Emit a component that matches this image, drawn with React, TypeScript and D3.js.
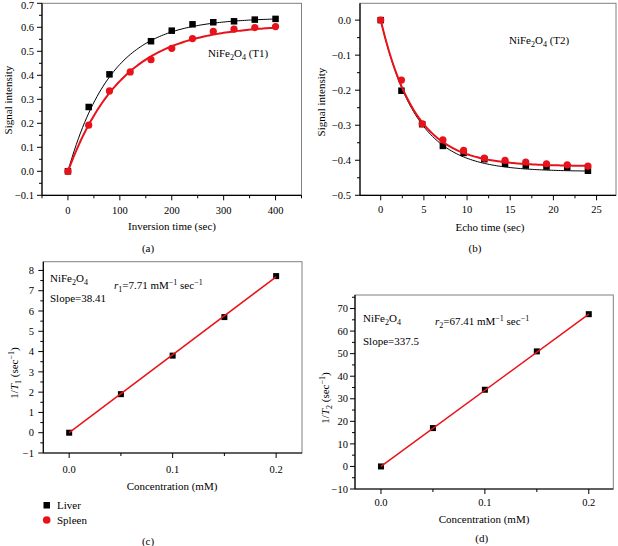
import React from "react";
import * as d3 from "d3";

// ---------- data ----------
const T1_TIME_LIVER = [0, 40, 80, 160, 200, 240, 280, 320, 360, 400];
const T1_LIVER = [0, 0.268, 0.404, 0.542, 0.586, 0.6125, 0.621, 0.625, 0.632, 0.635];
const T1_TIME_SPLEEN = [0, 40, 80, 120, 160, 200, 240, 280, 320, 360, 400];
const T1_SPLEEN = [0, 0.192, 0.335, 0.414, 0.465, 0.5125, 0.553, 0.583, 0.592, 0.599, 0.603];
// exponential recovery fit parameters [amplitude, time constant]
const T1_FIT_LIVER = [0.64, 84];
const T1_FIT_SPLEEN = [0.612, 105];

const ECHO_TIME = [0, 2.4, 4.8, 7.2, 9.6, 12, 14.4, 16.8, 19.2, 21.6, 24];
const T2_LIVER = [0, -0.2015, -0.297, -0.359, -0.379, -0.397, -0.41, -0.415, -0.418, -0.42, -0.43];
const T2_SPLEEN = [0, -0.171, -0.296, -0.342, -0.372, -0.394, -0.4, -0.405, -0.41, -0.413, -0.417];
const T2_FIT_LIVER = [0.432, 4.1];
const T2_FIT_SPLEEN = [0.417, 4.0];

const CONC = [0, 0.05, 0.1, 0.15, 0.2];
const R1_RATE = [0, 1.9, 3.8, 5.7, 7.72];
const R2_RATE = [0, 17, 34, 51, 67.5];
const R1_SLOPE = 38.41;
const R2_SLOPE = 337.5;

const A_X_TICKS = [0, 100, 200, 300, 400];
const A_Y_TICKS = [-0.1, 0, 0.1, 0.2, 0.3, 0.4, 0.5, 0.6, 0.7];
const B_X_TICKS = [0, 5, 10, 15, 20, 25];
const B_Y_TICKS = [-0.5, -0.4, -0.3, -0.2, -0.1, 0];
const C_X_TICKS = [0, 0.1, 0.2];
const C_Y_TICKS = [-1, 0, 1, 2, 3, 4, 5, 6, 7, 8];
const D_X_TICKS = [0, 0.1, 0.2];
const D_Y_TICKS = [-10, 0, 10, 20, 30, 40, 50, 60, 70];

const FONT = "'Liberation Serif', 'Times New Roman', serif";
const RED = "#e8121b";

function minors(ticks: number[], lo: number, hi: number) {
  const step = ticks[1] - ticks[0];
  const out: number[] = [];
  for (let v = ticks[0] - step / 2; v <= hi + 1e-9; v += step) {
    if (v >= lo - 1e-9) out.push(+v.toFixed(6));
  }
  return out.filter((v) => !ticks.some((t) => Math.abs(t - v) < 1e-9));
}

type Cfg = {
  x: d3.ScaleLinear<number, number>;
  y: d3.ScaleLinear<number, number>;
  xt: number[];
  yt: number[];
  xfmt: (v: number) => string;
  yfmt: (v: number) => string;
  xLabelY: number;
  yLabelX: number;
};

function Axes({ x, y, xt, yt, xfmt, yfmt, xLabelY, yLabelX }: Cfg) {
  const [x0, x1] = x.range();
  const [yb, yt0] = y.range();
  const [xd0, xd1] = x.domain();
  const [yd0, yd1] = y.domain();
  const xm = minors(xt, xd0, xd1);
  const ym = minors(yt, yd0, yd1);
  return (
    <g>
      <rect x={x0} y={yt0} width={x1 - x0} height={yb - yt0} fill="none" stroke="#808080" strokeWidth={1} />
      <line x1={x0} x2={x0} y1={yt0} y2={yb} stroke="#000" strokeWidth={1.2} />
      <line x1={x0} x2={x1} y1={yb} y2={yb} stroke="#000" strokeWidth={1.2} />
      {xt.map((v) => (
        <g key={"xt" + v}>
          <line x1={x(v)} x2={x(v)} y1={yb} y2={yb + 5} stroke="#000" />
          <text x={x(v)} y={xLabelY} dy="0.35em" textAnchor="middle" fontSize={10.5}>
            {xfmt(v)}
          </text>
        </g>
      ))}
      {xm.map((v) => (
        <line key={"xm" + v} x1={x(v)} x2={x(v)} y1={yb} y2={yb + 3} stroke="#000" />
      ))}
      {yt.map((v) => (
        <g key={"yt" + v}>
          <line x1={x0 - 5} x2={x0} y1={y(v)} y2={y(v)} stroke="#000" />
          <text x={yLabelX} y={Math.max(y(v), 5)} dy="0.35em" textAnchor="end" fontSize={10.5}>
            {yfmt(v)}
          </text>
        </g>
      ))}
      {ym.map((v) => (
        <line key={"ym" + v} x1={x0 - 3} x2={x0} y1={y(v)} y2={y(v)} stroke="#000" />
      ))}
    </g>
  );
}

function Squares({ xs, ys, x, y, s = 6.5 }: any) {
  return (
    <g>
      {xs.map((v: number, i: number) => (
        <rect key={i} x={x(v) - s / 2} y={y(ys[i]) - s / 2} width={s} height={s} fill="#000" />
      ))}
    </g>
  );
}
function Circles({ xs, ys, x, y, r = 3.6 }: any) {
  return (
    <g>
      {xs.map((v: number, i: number) => (
        <circle key={i} cx={x(v)} cy={y(ys[i])} r={r} fill={RED} />
      ))}
    </g>
  );
}

export default function App() {
  const f1 = d3.format(".1f");
  const f0 = d3.format("d");
  const line = (x: any, y: any) =>
    d3
      .line<[number, number]>()
      .x((d) => x(d[0]))
      .y((d) => y(d[1]))
      .curve(d3.curveLinear);

  // Panel a
  const ax = d3.scaleLinear().domain([-50, 450]).range([42, 301.5]);
  const ay = d3.scaleLinear().domain([-0.1, 0.7]).range([195.3, 3.3]);
  const recov = (p: number[]) =>
    d3.range(0, 400.01, 4).map((t) => [t, p[0] * (1 - Math.exp(-t / p[1]))] as [number, number]);

  // Panel b
  const bx = d3.scaleLinear().domain([-2.4, 27.25]).range([360, 616]);
  const by = d3.scaleLinear().domain([-0.5, 0.048]).range([195.3, 3.3]);
  const decay = (p: number[]) =>
    d3.range(0, 24.01, 0.2).map((t) => [t, -p[0] * (1 - Math.exp(-t / p[1]))] as [number, number]);

  // Panel c
  const cx = d3.scaleLinear().domain([-0.025, 0.225]).range([43.3, 302]);
  const cy = d3.scaleLinear().domain([-1, 8.43]).range([453, 261.7]);
  // Panel d
  const dx = d3.scaleLinear().domain([-0.025, 0.2236]).range([355, 613.3]);
  const dy = d3.scaleLinear().domain([-10, 76]).range([489, 295]);

  const linFit = (slope: number) => [
    [CONC[0], slope * CONC[0]],
    [CONC[CONC.length - 1], slope * CONC[CONC.length - 1]],
  ] as [number, number][];

  const nife = (x: number, y: number, extra?: string) => (
    <text x={x} y={y} dy="0.35em" fontSize={11}>
      NiFe
      <tspan fontSize={8} dy="3">2</tspan>
      <tspan dy="-3">O</tspan>
      <tspan fontSize={8} dy="3">4</tspan>
      <tspan dy="-3">{extra || ""}</tspan>
    </text>
  );

  return (
    <svg width={618} height={546} style={{ position: "absolute", left: 0, top: 0, fontFamily: FONT }} fontFamily={FONT} fill="#000">
      <rect width={618} height={546} fill="#fff" />

      {/* ---------- (a) ---------- */}
      <Axes x={ax} y={ay} xt={A_X_TICKS} yt={A_Y_TICKS} xfmt={f0} yfmt={f1} xLabelY={210} yLabelX={34} />
      <path d={line(ax, ay)(recov(T1_FIT_LIVER)) || ""} fill="none" stroke="#000" strokeWidth={1} />
      <Squares xs={T1_TIME_LIVER} ys={T1_LIVER} x={ax} y={ay} />
      <path d={line(ax, ay)(recov(T1_FIT_SPLEEN)) || ""} fill="none" stroke={RED} strokeWidth={2} />
      <Circles xs={T1_TIME_SPLEEN} ys={T1_SPLEEN} x={ax} y={ay} />
      {nife(208, 53, " (T1)")}
      <text x={172} y={226} dy="0.35em" textAnchor="middle" fontSize={11}>Inversion time (sec)</text>
      <text transform="translate(8,100) rotate(-90)" dy="0.35em" textAnchor="middle" fontSize={11}>Signal intensity</text>
      <text x={148} y={248} dy="0.35em" textAnchor="middle" fontSize={11}>(a)</text>

      {/* ---------- (b) ---------- */}
      <Axes x={bx} y={by} xt={B_X_TICKS} yt={B_Y_TICKS} xfmt={f0} yfmt={f1} xLabelY={209} yLabelX={351} />
      <path d={line(bx, by)(decay(T2_FIT_LIVER)) || ""} fill="none" stroke="#000" strokeWidth={1} />
      <Squares xs={ECHO_TIME} ys={T2_LIVER} x={bx} y={by} />
      <path d={line(bx, by)(decay(T2_FIT_SPLEEN)) || ""} fill="none" stroke={RED} strokeWidth={2} />
      <Circles xs={ECHO_TIME} ys={T2_SPLEEN} x={bx} y={by} />
      {nife(509, 40, " (T2)")}
      <text x={490} y={227} dy="0.35em" textAnchor="middle" fontSize={11}>Echo time (sec)</text>
      <text transform="translate(321,102) rotate(-90)" dy="0.35em" textAnchor="middle" fontSize={11}>Signal intensity</text>
      <text x={475} y={248} dy="0.35em" textAnchor="middle" fontSize={11}>(b)</text>

      {/* ---------- (c) ---------- */}
      <Axes x={cx} y={cy} xt={C_X_TICKS} yt={C_Y_TICKS} xfmt={f1} yfmt={f0} xLabelY={469} yLabelX={34} />
      <Squares xs={CONC} ys={R1_RATE} x={cx} y={cy} s={6} />
      <path d={line(cx, cy)(linFit(R1_SLOPE)) || ""} fill="none" stroke={RED} strokeWidth={1.5} />
      {nife(50, 278)}
      <text x={50} y={298} dy="0.35em" fontSize={11}>Slope=38.41</text>
      <text x={114} y={285} dy="0.35em" fontSize={11}>
        <tspan fontStyle="italic">r</tspan>
        <tspan fontSize={8} dy="3">1</tspan>
        <tspan dy="-3">=7.71 mM</tspan>
        <tspan fontSize={8} dy="-4">−1</tspan>
        <tspan dy="4"> sec</tspan>
        <tspan fontSize={8} dy="-4">−1</tspan>
      </text>
      <text x={172} y={486} dy="0.35em" textAnchor="middle" fontSize={11}>Concentration (mM)</text>
      <text transform="translate(14,373) rotate(-90)" dy="0.35em" textAnchor="middle" fontSize={11}>
        1/<tspan fontStyle="italic">T</tspan>
        <tspan fontSize={8} dy="3">1</tspan>
        <tspan dy="-3"> (sec</tspan>
        <tspan fontSize={8} dy="-4">−1</tspan>
        <tspan dy="4">)</tspan>
      </text>
      <rect x={43.5} y={502} width={6.5} height={6.5} fill="#000" />
      <text x={57} y={505.3} dy="0.35em" fontSize={11}>Liver</text>
      <circle cx={46.7} cy={520} r={3.8} fill={RED} />
      <text x={57} y={520} dy="0.35em" fontSize={11}>Spleen</text>
      <text x={148} y={540.7} dy="0.35em" textAnchor="middle" fontSize={11}>(c)</text>

      {/* ---------- (d) ---------- */}
      <Axes x={dx} y={dy} xt={D_X_TICKS} yt={D_Y_TICKS} xfmt={f1} yfmt={f0} xLabelY={502.3} yLabelX={348} />
      <Squares xs={CONC} ys={R2_RATE} x={dx} y={dy} s={6} />
      <path d={line(dx, dy)(linFit(R2_SLOPE)) || ""} fill="none" stroke={RED} strokeWidth={1.5} />
      {nife(363, 318)}
      <text x={363} y={340.7} dy="0.35em" fontSize={11}>Slope=337.5</text>
      <text x={435} y={320.7} dy="0.35em" fontSize={11}>
        <tspan fontStyle="italic">r</tspan>
        <tspan fontSize={8} dy="3">2</tspan>
        <tspan dy="-3">=67.41 mM</tspan>
        <tspan fontSize={8} dy="-4">−1</tspan>
        <tspan dy="4"> sec</tspan>
        <tspan fontSize={8} dy="-4">−1</tspan>
      </text>
      <text x={484} y={519.3} dy="0.35em" textAnchor="middle" fontSize={11}>Concentration (mM)</text>
      <text transform="translate(325,398) rotate(-90)" dy="0.35em" textAnchor="middle" fontSize={11}>
        1/<tspan fontStyle="italic">T</tspan>
        <tspan fontSize={8} dy="3">2</tspan>
        <tspan dy="-3"> (sec</tspan>
        <tspan fontSize={8} dy="-4">−1</tspan>
        <tspan dy="4">)</tspan>
      </text>
      <text x={481.7} y={538.3} dy="0.35em" textAnchor="middle" fontSize={11}>(d)</text>
    </svg>
  );
}
